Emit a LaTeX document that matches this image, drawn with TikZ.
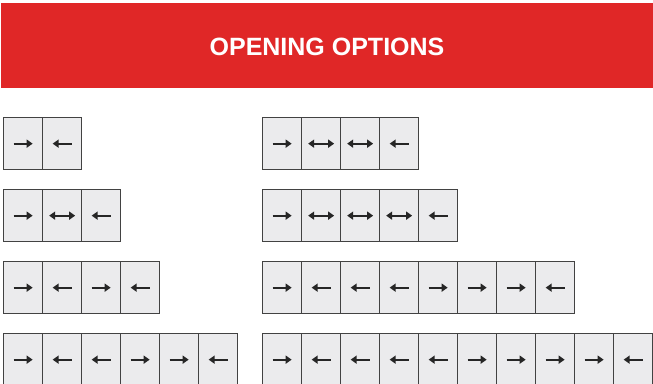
\documentclass[tikz,border=0pt]{standalone}
\usepackage{fontspec}
\setmainfont{Liberation Sans}
\usetikzlibrary{arrows.meta}
\definecolor{bannerred}{HTML}{E02727}
\definecolor{cellgray}{HTML}{EBEBED}
\definecolor{edgegray}{HTML}{424242}

\begin{document}
\begin{tikzpicture}[x=1pt,y=-1pt]
  \tikzstyle{cell}=[draw=edgegray,fill=cellgray,line width=1.3pt,minimum width=39pt,minimum height=52pt,inner sep=0pt,anchor=north west]
  \tikzstyle{arr}=[line width=2.3pt,black!85]
  \tikzset{
    goR/.style={-{Triangle[length=6pt,width=8pt]},shorten <=3.5pt,shorten >=3.5pt},
    goL/.style={{Triangle[length=6pt,width=8pt]}-,shorten <=3.5pt,shorten >=3.5pt},
    goB/.style={{Triangle[length=6pt,width=8pt]}-{Triangle[length=6pt,width=8pt]}}
  }
  \useasboundingbox (0,0) rectangle (653,383);
  \fill[bannerred] (1,3) rectangle (653,88);
  \node[text=white,font=\bfseries\fontsize{25}{25}\selectfont] (title) at (327,47) {OPENING OPTIONS};
  % left and right columns, one row of doors each
  \foreach \x / \y / \name / \pat in {3/117/a/{goR,goL}, 3/189/b/{goR,goB,goL},
      3/261/c/{goR,goL,goR,goL}, 3/333/d/{goR,goL,goL,goR,goR,goL},
      262/117/e/{goR,goB,goB,goL}, 262/189/f/{goR,goB,goB,goB,goL},
      262/261/g/{goR,goL,goL,goL,goR,goR,goR,goL},
      262/333/h/{goR,goL,goL,goL,goL,goR,goR,goR,goR,goL}}
    \foreach \d [count=\i] in \pat {
      \node[cell] (\name\i) at (\x+39*\i-39,\y) {};
      \draw[arr,\d] ([xshift=-13pt]\name\i.center) -- ([xshift=13pt]\name\i.center);
    }
\end{tikzpicture}
\end{document}
